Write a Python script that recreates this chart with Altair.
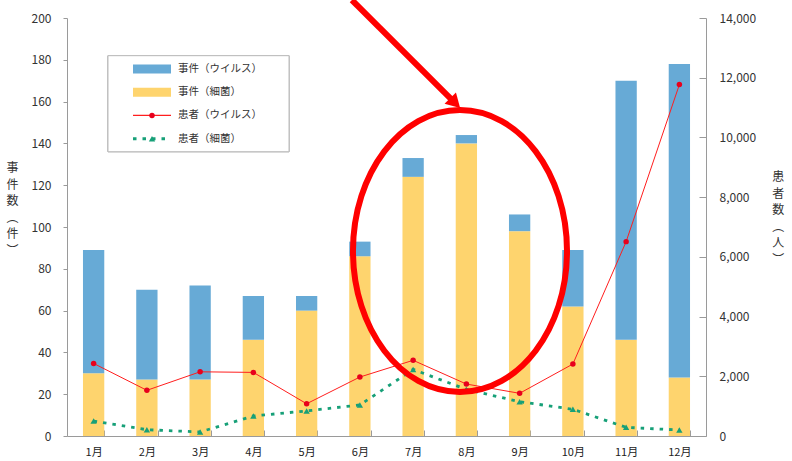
import altair as alt
import pandas as pd

months = ["1月", "2月", "3月", "4月", "5月", "6月", "7月", "8月", "9月", "10月", "11月", "12月"]
virus_cases = [59, 43, 45, 21, 7, 7, 9, 4, 8, 27, 124, 150]
bacteria_cases = [30, 27, 27, 46, 60, 86, 124, 140, 98, 62, 46, 28]
virus_patients = [2430, 1530, 2150, 2130, 1080, 1975, 2535, 1740, 1430, 2410, 6510, 11770]
bacteria_patients = [500, 210, 135, 670, 840, 1040, 2230, 1560, 1150, 895, 290, 200]

series_names = ["事件（ウイルス）", "事件（細菌）", "患者（ウイルス）", "患者（細菌）"]
series_colors = ["#67AAD6", "#FED46E", "#F41A22", "#17A078"]
left_ticks = list(range(0, 201, 20))
right_ticks = list(range(0, 14001, 2000))
left_title = ["事", "件", "数", "︵", "件", "︶"]
right_title = ["患", "者", "数", "︵", "人", "︶"]

# annotation (month position, left-axis value)
ellipse_center = [7.88, 88.5]
arrow_start = [5.85, 208.6]
arrow_end = [7.79, 159.3]

FONT = "Noto Sans CJK JP"
AXIS_GRAY = "#9a9a9a"

bars_df = pd.DataFrame({
    "month": months * 2,
    "series": [series_names[1]] * 12 + [series_names[0]] * 12,
    "value": bacteria_cases + virus_cases,
    "ord": [0] * 12 + [1] * 12,
})
vp_df = pd.DataFrame({"month": months, "value": virus_patients})
bp_df = pd.DataFrame({"month": months, "value": bacteria_patients})
legend_df = pd.DataFrame({"series": series_names})

color_scale = alt.Scale(domain=series_names, range=series_colors)


def band_scale():
    return alt.Scale(type="band", domain=months, paddingInner=0.6, paddingOuter=0.3)


x_band = alt.X(
    "month:N", sort=months, scale=band_scale(),
    axis=alt.Axis(title=None, ticks=False, tickBand="extent", grid=True,
                  gridDash=[6, 412], gridDashOffset=6, gridColor=AXIS_GRAY,
                  labelAngle=0, labelPadding=10, labelFontSize=11, labelColor="#222",
                  labelFont=FONT, domainColor=AXIS_GRAY),
)


def x_plain():
    return alt.X("month:N", sort=months, scale=band_scale(), axis=None)


left_scale = alt.Scale(domain=[0, 200], nice=False)
right_scale = alt.Scale(domain=[0, 14000], nice=False)

y_left = alt.Y(
    "value:Q", stack="zero", scale=left_scale,
    axis=alt.Axis(values=left_ticks, title=left_title, titleAngle=0, titleX=-55, titleY=144.5,
                  titleBaseline="top", titleAlign="center", titleFontSize=12,
                  titleLineHeight=16.5, titleColor="#333", titleFont=FONT,
                  titleFontWeight="normal", tickSize=4, tickColor=AXIS_GRAY,
                  domainColor=AXIS_GRAY, labelPadding=12, labelFontSize=12,
                  labelColor="#333", labelFont=FONT, grid=False),
)

bars = alt.Chart(bars_df).mark_bar().encode(
    x=x_band,
    y=y_left,
    color=alt.Color("series:N", scale=color_scale, legend=None),
    order=alt.Order("ord:Q"),
)

y_right = alt.Y(
    "value:Q", scale=right_scale,
    axis=alt.Axis(orient="right", values=right_ticks, format=",.0f", title=right_title,
                  titleAngle=0, titleX=71.7, titleY=153.5, titleBaseline="top",
                  titleAlign="center", titleFontSize=12, titleLineHeight=16.5,
                  titleColor="#333", titleFont=FONT, titleFontWeight="normal",
                  ticks=False, grid=True, gridDash=[7, 2000], gridColor=AXIS_GRAY,
                  domainColor=AXIS_GRAY, labelPadding=13, labelFontSize=12,
                  labelColor="#333", labelFont=FONT),
)


def y_right_plain():
    return alt.Y("value:Q", scale=right_scale, axis=None)


red_line = alt.Chart(vp_df).mark_line(color="#FF1E1E", strokeWidth=1).encode(x=x_plain(), y=y_right)
red_pts = alt.Chart(vp_df).mark_circle(color="#E8001C", size=30, opacity=1).encode(x=x_plain(), y=y_right_plain())
green_line = alt.Chart(bp_df).mark_line(color=series_colors[3], strokeWidth=2.8, strokeDash=[3.5, 6]).encode(x=x_plain(), y=y_right_plain())
green_pts = alt.Chart(bp_df).mark_point(shape="triangle-up", filled=True, color=series_colors[3], size=40, opacity=1).encode(x=x_plain(), y=y_right_plain())

# ---- legend (rows placed by a point scale over the legend box) ----
def legend_y():
    return alt.Y("series:N", sort=series_names,
                 scale=alt.Scale(type="point", domain=series_names, range=[51, 120.7], padding=0),
                 axis=None)


leg_box = alt.Chart(legend_df).mark_rect(fill="white", stroke="#BDBDBD", strokeWidth=1).encode(
    x=alt.value(41), x2=alt.value(222), y=alt.value(37.7), y2=alt.value(133.7))
leg_bars = alt.Chart(legend_df).transform_filter(
    alt.FieldOneOfPredicate(field="series", oneOf=series_names[:2])
).mark_rule(strokeWidth=9, strokeCap="butt").encode(
    x=alt.value(66), x2=alt.value(104), y=legend_y(),
    color=alt.Color("series:N", scale=color_scale, legend=None))
leg_red = alt.Chart(legend_df).transform_filter(
    alt.FieldEqualPredicate(field="series", equal=series_names[2])
).mark_rule(strokeWidth=1.2, color="#FF1E1E").encode(
    x=alt.value(66), x2=alt.value(104), y=legend_y())
leg_red_pt = alt.Chart(legend_df).transform_filter(
    alt.FieldEqualPredicate(field="series", equal=series_names[2])
).mark_circle(size=30, color="#E8001C", opacity=1).encode(x=alt.value(85), y=legend_y())
leg_green = alt.Chart(legend_df).transform_filter(
    alt.FieldEqualPredicate(field="series", equal=series_names[3])
).mark_rule(strokeWidth=3, strokeDash=[3.5, 6], strokeCap="butt", color=series_colors[3]).encode(
    x=alt.value(66), x2=alt.value(104), y=legend_y())
leg_green_pt = alt.Chart(legend_df).transform_filter(
    alt.FieldEqualPredicate(field="series", equal=series_names[3])
).mark_point(shape="triangle-up", filled=True, size=40, color=series_colors[3], opacity=1).encode(
    x=alt.value(85), y=legend_y())
leg_text = alt.Chart(legend_df).mark_text(
    align="left", baseline="middle", font=FONT, fontSize=10.5, color="#333"
).encode(x=alt.value(111), y=legend_y(), text="series:N")

# ---- annotation ----
xq = alt.Scale(domain=[0.5, 12.5], nice=False, zero=False)
yq = alt.Scale(domain=[0, 200], nice=False, zero=False)

ell_df = pd.DataFrame({"m": [ellipse_center[0]], "v": [ellipse_center[1]]})
arrow_df = pd.DataFrame({"m": [arrow_start[0]], "v": [arrow_start[1]],
                         "m2": [arrow_end[0]], "v2": [arrow_end[1]]})
head_df = pd.DataFrame({"m": [arrow_end[0]], "v": [arrow_end[1]]})

ELLIPSE = "M-0.759,0A0.759,1 0 1,0 0.759,0A0.759,1 0 1,0 -0.759,0Z"
ell = alt.Chart(ell_df).mark_point(shape=ELLIPSE, size=79524, filled=False, color="#FF0000",
                                   strokeWidth=6, opacity=1).encode(
    x=alt.X("m:Q", scale=xq, axis=None), y=alt.Y("v:Q", scale=yq, axis=None))
arrow = alt.Chart(arrow_df).mark_rule(color="#FF0000", strokeWidth=6).encode(
    x=alt.X("m:Q", scale=xq, axis=None), y=alt.Y("v:Q", scale=yq, axis=None), x2="m2:Q", y2="v2:Q")
head = alt.Chart(head_df).mark_point(shape="triangle-up", filled=True, color="#FF0000", size=260,
                                     angle=135, opacity=1).encode(
    x=alt.X("m:Q", scale=xq, axis=None), y=alt.Y("v:Q", scale=yq, axis=None))

chart = alt.layer(
    bars, red_line, green_line, red_pts, green_pts,
    leg_box, leg_bars, leg_red, leg_red_pt, leg_green, leg_green_pt, leg_text,
    ell, arrow, head
).resolve_scale(x="independent", y="independent").properties(
    width=639, height=418,
    padding={"left": 67, "top": 18, "right": 86, "bottom": 25},
    autosize=alt.AutoSizeParams(type="none"),
    background="white",
).configure_view(stroke=None)

chart.save("out.html", embed_options={"renderer": "svg", "actions": False})
